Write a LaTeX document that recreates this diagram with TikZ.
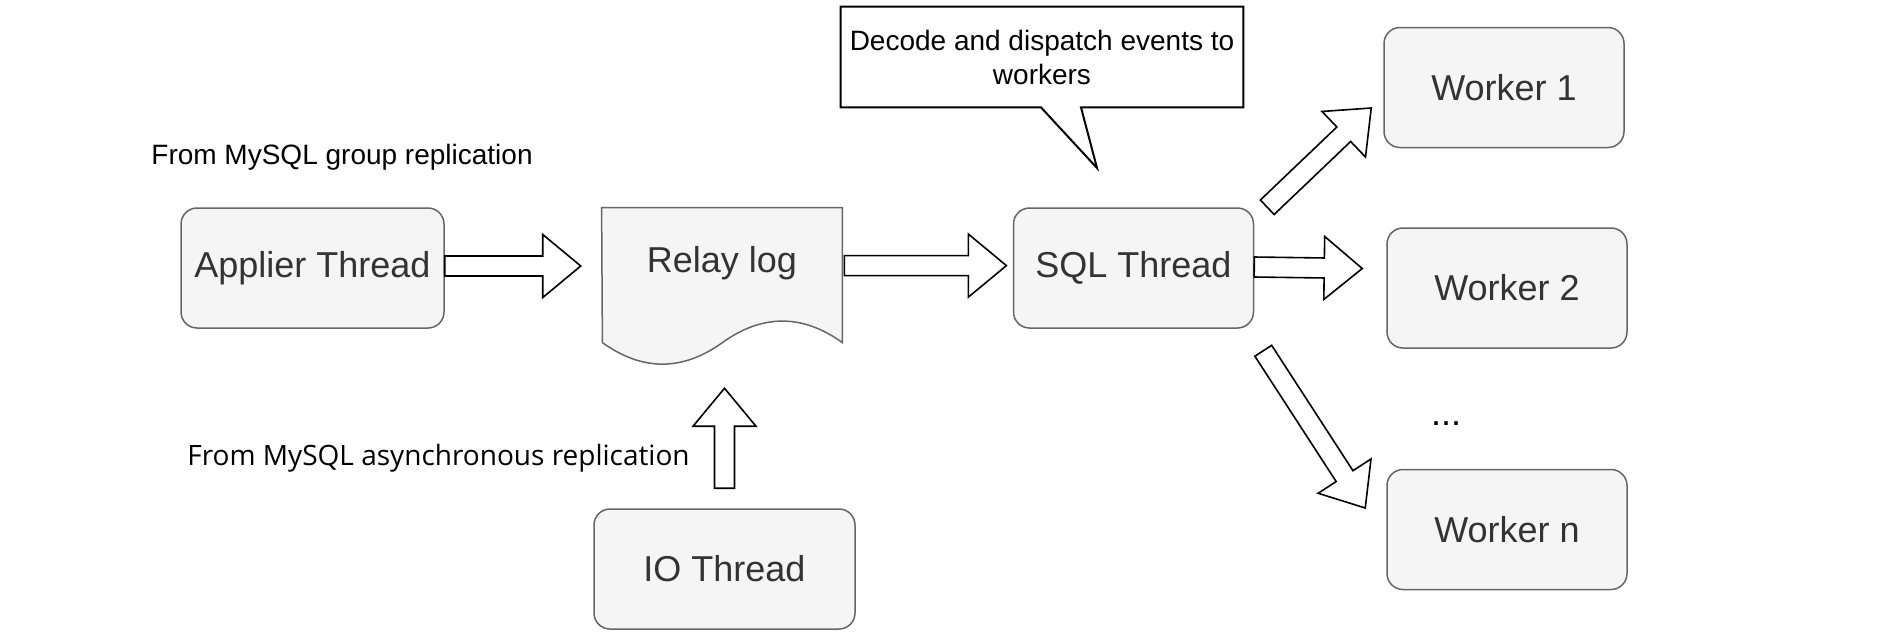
\documentclass[tikz,border=0pt]{standalone}
\usepackage{fontspec}
\setmainfont{Liberation Sans}
\newfontfamily\labelfont{Open Sans}
\usetikzlibrary{calc, positioning}
\definecolor{boxfill}{HTML}{F5F5F5}
\definecolor{boxline}{HTML}{666666}
\definecolor{boxtext}{HTML}{333333}

\begin{document}
\begin{tikzpicture}[x=0.5pt, y=-0.5pt,
    box/.style={draw=boxline, fill=boxfill, line width=0.75pt, rounded corners=8pt,
      text=boxtext, font=\fontsize{18}{21}\selectfont, inner sep=0pt,
      minimum width=120pt, minimum height=60pt},
    hollow/.style={draw=black, fill=white, line width=0.8pt, line join=miter},
    note/.style={font=\fontsize{14}{17}\selectfont, align=center, inner sep=0pt}]
  \useasboundingbox (0,0) rectangle (1887,639);

  % --- Threads and workers ---
  \node[box, minimum width=131.5pt] (applier) at (312.5,268) {Applier Thread};
  \node[box] (sql) at (1133.5,268) {SQL Thread};
  \node[box, minimum width=130.5pt] (io) at (724.5,569) {IO Thread};
  \node[box] (w1) at (1504,87.5) {Worker 1};
  \node[box] (w2) at (1507,288) {Worker 2};
  \node[box] (wn) at (1507,529.5) {Worker n};
  \node[note, font=\fontsize{18}{21}\selectfont] (dots) at (1446,424) {...};

  % --- Relay log as a document ---
  \node[minimum width=120pt, minimum height=79.5pt, inner sep=0pt] (relay) at (722,287.5) {};
  \draw[draw=boxline, fill=boxfill, line width=0.75pt]
    (relay.north west) -- (relay.north east) -- ++(0,135)
    .. controls +(-40,-28.7) and +(40,-28.7) .. ++(-120,0)
    .. controls +(-40,28.7) and +(40,28.7) .. ++(-120,0) -- cycle;
  \node[box, draw=none, fill=none] (relaytext) at ($(relay.north)+(0,56)$) {Relay log};

  % --- Labels ---
  \node[note, anchor=west] (group) at (151,157) {From MySQL group replication};
  \node[note, anchor=west, font=\labelfont\fontsize{14}{17}\selectfont] (async) at (187,458)
    {From MySQL asynchronous replication};

  % --- Callout ---
  \node[note, minimum width=201pt, minimum height=50pt] (callout) at (1042,57)
    {Decode and dispatch events to\\workers};
  \coordinate (tip) at (1097,168);
  \draw[line width=1pt, line join=miter] (callout.north west) -- (callout.north east)
    -- (callout.south east) -- ($(callout.south)+(39,0)$) -- (tip)
    -- ($(callout.south)+(-1,0)$) -- (callout.south west) -- cycle;

  % --- Arrow ends ---
  \coordinate (a1s) at ($(applier.east)+(0,-2)$);
  \coordinate (a1e) at ($(a1s)+(136,0)$);
  \coordinate (a2s) at ($(relay.north east)+(2,58)$);
  \coordinate (a2e) at ($(a2s)+(162,0)$);
  \coordinate (a3s) at ($(sql.east)+(0,-1)$);
  \coordinate (a3e) at ($(w2.west)+(-24,-19.5)$);
  \coordinate (a4s) at ($(sql.north east)+(13,0)$);
  \coordinate (a4e) at ($(w1.west)+(-12,20.5)$);
  \coordinate (a5s) at ($(sql.south east)+(9,22)$);
  \coordinate (a5e) at ($(wn.west)+(-21,-21.5)$);
  \coordinate (a6s) at ($(io.north)+(0,-20)$);
  \coordinate (a6e) at ($(a6s)+(0,-100)$);

  % --- Block arrows ---
  \foreach \s/\e in {a1s/a1e, a2s/a2e, a3s/a3e, a4s/a4e, a5s/a5e, a6s/a6e} {
    \coordinate (h) at ($(\e)!19pt!(\s)$);
    \draw[hollow] ($(\s)!5pt!90:(\e)$) -- ($(h)!5pt!90:(\e)$) -- ($(h)!15.75pt!90:(\e)$)
      -- (\e) -- ($(h)!15.75pt!-90:(\e)$) -- ($(h)!5pt!-90:(\e)$)
      -- ($(\s)!5pt!-90:(\e)$) -- cycle;
  }
\end{tikzpicture}
\end{document}
